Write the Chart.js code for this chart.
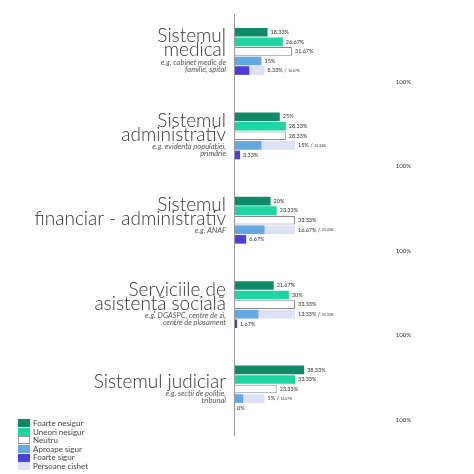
<!DOCTYPE html>
<html><head><meta charset="utf-8">
<script src="https://cdn.jsdelivr.net/npm/chart.js@4"></script>
<style>html,body{margin:0;background:#fff;}#w{position:relative;width:474px;height:474px;}
#lg{position:absolute;left:18px;top:419px;font:8px Lato,sans-serif;color:#444;line-height:8.6px}
#lg div{display:flex;align-items:center}#lg span{display:inline-block;width:12px;height:8px;margin-right:3px;box-sizing:border-box}</style>
</head><body><div id="w"><canvas id="c" width="474" height="474"></canvas><div id="lg"></div></div>
<script>
const categories=["medical","administrativ","financiar","social","judiciar"];
const titles=[["Sistemul","medical"],["Sistemul","administrativ"],["Sistemul","financiar - administrativ"],["Serviciile de","asistență socială"],["Sistemul judiciar"]];
const subtitles=[["e.g. cabinet medic de","familie, spital"],["e.g. evidența populației,","primărie"],["e.g. ANAF"],["e.g. DGASPC, centre de zi,","centre de plasament"],["e.g. secții de poliție,","tribunal"]];
const seriesNames=["Foarte nesigur","Uneori nesigur","Neutru","Aproape sigur","Foarte sigur","Persoane cishet"];
const foarteNesigur=[18.33,25,20,21.67,38.33];
const uneoriNesigur=[26.67,28.33,23.33,30,33.33];
const neutru=[31.67,28.33,33.33,33.33,23.33];
const aproapeSigur=[15,15,16.67,13.33,5];
const foarteSigur=[8.33,3.33,6.67,1.67,0];
const cishetAproape=[null,33.33,33.33,33.33,16.67];
const cishetFoarte=[16.67,null,null,null,null];
const total=[100,100,100,100,100];
const colors=["#0f8a68","#1ed4a2","#ffffff","#64a8e2","#4a3fd8","#dce1f5"];
const lg=document.getElementById('lg');
seriesNames.forEach((n,i)=>{lg.innerHTML+=`<div><span style="background:${colors[i]};${i==2?'border:1px solid #999':''}"></span>${n}</div>`});
const fmt=v=>(+v.toFixed(2))+'%';
const main=[foarteNesigur,uneoriNesigur,neutru,aproapeSigur,foarteSigur];
const ds=main.map((d,i)=>({label:seriesNames[i],data:d,stack:'s'+i,backgroundColor:colors[i],borderColor:i==2?'#888':colors[i],borderWidth:i==2?1:0,order:1}));
ds.push({label:'100',data:total,stack:'s5',backgroundColor:'rgba(0,0,0,0)',order:1});
const over={3:cishetAproape,4:cishetFoarte};
const overIdx={};
Object.keys(over).forEach(k=>{overIdx[k]=ds.length;ds.push({label:'cishet'+k,data:over[k],stack:'s'+k,backgroundColor:colors[5],order:2});});
const labelPlugin={id:'lbl',afterDatasetsDraw(ch){const c=ch.ctx;c.save();c.fillStyle='#333';c.textBaseline='middle';
for(let i=0;i<6;i++){const m=ch.getDatasetMeta(i);m.data.forEach((b,j)=>{let v=ds[i].data[j];let t;
if(i==5){c.font='6px Lato';c.textAlign='right';c.fillText('100%',b.x-6,b.y+2);return;}
t=fmt(v);let cv=over[i]?over[i][j]:null;let x=b.x;
if(cv!=null){const ob=ch.getDatasetMeta(overIdx[i]).data[j];x=Math.max(x,ob.x);t+=' / ';}
c.font='5.5px Lato';c.textAlign='left';c.fillText(t,x+3,b.y);
if(cv!=null){const w=c.measureText(t).width;c.font='3.5px Lato';c.fillText(fmt(cv),x+3+w,b.y+0.5);}});}
c.textAlign='right';c.fillStyle='#333';
const ys=ch.scales.y;categories.forEach((k,j)=>{const cy=ys.getPixelForValue(j);let y=cy-12-(titles[j].length-1)*8;
c.font='300 19px Lato';titles[j].forEach(l=>{c.fillText(l,226,y);y+=14;});y-=2;
c.font='italic 7.5px Lato';c.fillStyle='#555';subtitles[j].forEach(l=>{c.fillText(l,226,y);y+=7;});c.fillStyle='#333';});
c.strokeStyle='#999';c.lineWidth=1;c.beginPath();c.moveTo(234.5,14);c.lineTo(234.5,436);c.stroke();c.restore();}};
new Chart(document.getElementById('c'),{type:'bar',data:{labels:categories,datasets:ds},plugins:[labelPlugin],
options:{indexAxis:'y',responsive:false,animation:false,layout:{padding:{left:234,right:57,top:14,bottom:38}},
plugins:{legend:{display:false},tooltip:{enabled:false}},
datasets:{bar:{categoryPercentage:0.68,barPercentage:0.9}},
scales:{x:{min:0,max:100,display:false,stacked:false},y:{display:false,stacked:true}}}});
</script></body></html>
